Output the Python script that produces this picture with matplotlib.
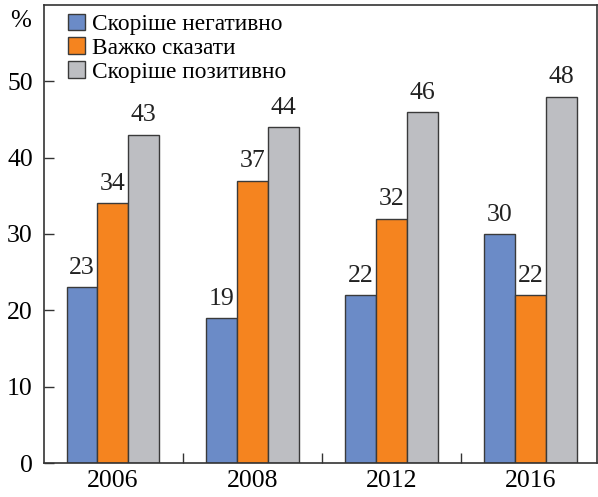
import matplotlib
matplotlib.use("Agg")
import matplotlib.pyplot as plt
import numpy as np
from matplotlib.patches import Patch

years = ["2006", "2008", "2012", "2016"]
series_names = ["Скоріше негативно", "Важко сказати", "Скоріше позитивно"]
negative = [23, 19, 22, 30]
hard_to_say = [34, 37, 32, 22]
positive = [43, 44, 46, 48]
colors = ["#6b8bc7", "#f5841f", "#bdbec2"]
yticks = [0, 10, 20, 30, 40, 50]

plt.rcParams['font.family'] = ['Liberation Serif', 'DejaVu Serif']

fig = plt.figure(figsize=(5.98, 4.97), dpi=100)
ax = fig.add_axes([44/598, 34/497, 553/598, 458/497])

x = np.arange(len(years))
w = 0.222
for i, (vals, c) in enumerate(zip([negative, hard_to_say, positive], colors)):
    pos = x + (i - 1) * w
    ax.bar(pos, vals, width=w, color=c, edgecolor="#3a3a3a", linewidth=1.0, zorder=2)
    for p, v in zip(pos, vals):
        ax.annotate(str(v), (p, v), xytext=(0, 6), textcoords="offset points",
                    ha="center", va="bottom", fontsize=18.5, color="#222222")

ax.set_xlim(-0.495, 3.475)
ax.set_ylim(0, 60)
ax.set_yticks(yticks)
ax.set_yticklabels([str(t) for t in yticks], fontsize=18.5)
ax.set_xticks(x)
ax.set_xticklabels(years, fontsize=18.5)
ax.tick_params(axis="x", length=0, pad=5)
ax.tick_params(axis="y", direction="in", length=7, width=1, pad=8, color="#333333")
ax.set_xticks(x[:-1] + 0.5, minor=True)
ax.tick_params(axis="x", which="minor", direction="in", length=7, width=1, color="#333333")
for s in ax.spines.values():
    s.set_linewidth(1.2)
    s.set_color("#333333")

ax.text(-0.042, 0.965, "%", transform=ax.transAxes, fontsize=18, ha="center", va="center")

handles = [Patch(facecolor=c, edgecolor="#3a3a3a", linewidth=1.0) for c in colors]
leg = ax.legend(handles, series_names, loc="upper left", bbox_to_anchor=(0.018, 1.012),
                frameon=False, fontsize=16.8, handlelength=0.72, handleheight=0.72,
                handletextpad=0.3, labelspacing=0.1, borderaxespad=0.2)

fig.savefig("out.png", dpi=100)
